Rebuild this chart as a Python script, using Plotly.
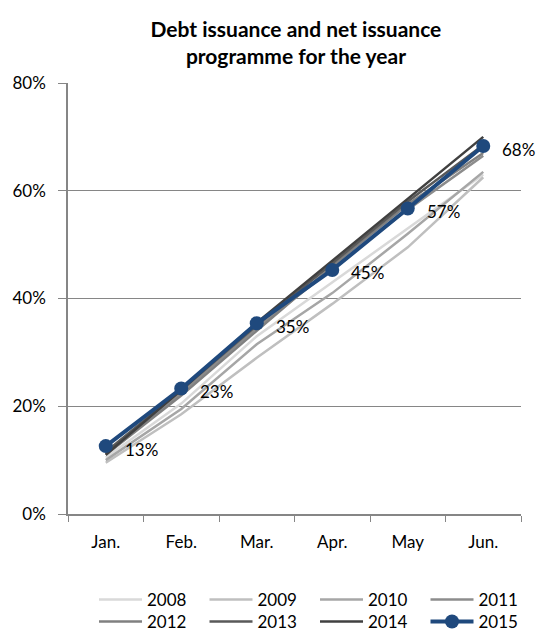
import plotly.graph_objects as go

# Cumulative share of the annual issuance programme completed by month end (%)
months = ["Jan.", "Feb.", "Mar.", "Apr.", "May", "Jun."]
years = ["2008", "2009", "2010", "2011", "2012", "2013", "2014", "2015"]

y2008 = [10.5, 20.5, 33.0, 43.0, 53.0, 63.0]
y2009 = [9.5, 18.5, 29.0, 39.0, 49.5, 62.5]
y2010 = [10.0, 19.5, 31.5, 41.0, 52.0, 63.5]
y2011 = [11.0, 22.5, 34.5, 45.5, 56.5, 66.5]
y2012 = [11.0, 22.0, 34.0, 46.0, 57.5, 67.0]
y2013 = [11.5, 23.0, 35.0, 46.5, 58.0, 68.5]
y2014 = [11.0, 23.0, 35.5, 47.0, 58.5, 70.0]
y2015 = [12.6, 23.3, 35.4, 45.3, 56.7, 68.3]

series = [y2008, y2009, y2010, y2011, y2012, y2013, y2014, y2015]
colors = ["#d9d9d9", "#bfbfbf", "#a6a6a6", "#8c8c8c",
          "#808080", "#595959", "#404040", "#1f497d"]

FONT = "Lato"
FS = 17

# plot-area geometry in pixels, used to lay out the legend grid
W, H = 543, 632
ML, MR, MT, MB = 68, 22, 83, 118
PW, PH = W - ML - MR, H - MT - MB

fig = go.Figure()
legend_ids = []
for i, (name, vals, col) in enumerate(zip(years, series, colors)):
    lid = "legend" if i == 0 else f"legend{i + 1}"
    legend_ids.append(lid)
    if name == "2015":
        fig.add_trace(go.Scatter(
            x=months, y=vals, name=name, mode="lines+markers",
            line=dict(color=col, width=4),
            marker=dict(color=col, size=14),
            legend=lid,
        ))
    else:
        fig.add_trace(go.Scatter(
            x=months, y=vals, name=name, mode="lines",
            line=dict(color=col, width=2.5),
            legend=lid, hoverinfo="skip",
        ))

# value labels to the right of the 2015 markers
for m, v in zip(months, y2015):
    fig.add_annotation(
        x=m, y=v, text=f"{round(v)}%", showarrow=False,
        xanchor="left", yanchor="middle", xshift=17, yshift=-3,
        font=dict(family=FONT, size=FS, color="#000000"),
    )

# legend: 4 columns x 2 rows, one single-entry legend per series
legends = {}
for i, lid in enumerate(legend_ids):
    col, row = i % 4, i // 4
    left_px = 94 + 110.5 * col
    centre_px = 600 + 22 * row
    legends[lid] = dict(
        orientation="h", xanchor="left", yanchor="middle",
        x=(left_px - ML) / PW, y=-(centre_px - (MT + PH)) / PH,
        itemwidth=43,
        font=dict(family=FONT, size=FS, color="#000000"),
        itemclick=False, bgcolor="rgba(0,0,0,0)",
    )

fig.update_layout(
    width=W, height=H,
    margin=dict(l=ML, r=MR, t=MT, b=MB, autoexpand=False),
    paper_bgcolor="white", plot_bgcolor="white",
    font=dict(family=FONT, size=FS, color="#000000"),
    title=dict(
        text="<b>Debt issuance and net issuance<br>programme for the year</b>",
        x=0.545, xanchor="center", y=0.942, yanchor="top",
        font=dict(family=FONT, size=21, color="#000000"),
    ),
    showlegend=True,
    **legends,
)

fig.update_xaxes(
    type="category", range=[-0.5, 5.5],
    showline=True, linecolor="#868686", linewidth=1.5,
    ticks="outside", tickson="boundaries", ticklen=6, tickcolor="#868686",
    showgrid=False, ticklabelstandoff=12,
    tickfont=dict(family=FONT, size=FS),
)
fig.update_yaxes(
    range=[0, 80], dtick=20, ticksuffix="%",
    showline=True, linecolor="#868686", linewidth=1.5,
    ticks="outside", ticklen=8, tickcolor="#868686",
    showgrid=True, gridcolor="#868686", gridwidth=1.2,
    zeroline=False, ticklabelstandoff=9,
    tickfont=dict(family=FONT, size=FS),
)

fig.write_html("out.html")
